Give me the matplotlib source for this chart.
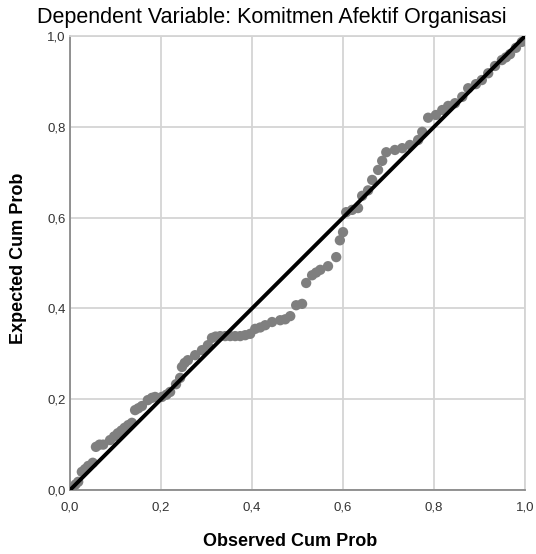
import matplotlib
matplotlib.use("Agg")
import matplotlib.pyplot as plt
from matplotlib.ticker import FuncFormatter

title = "Dependent Variable: Komitmen Afektif Organisasi"
xlabel = "Observed Cum Prob"
ylabel = "Expected Cum Prob"
ticks = [0.0, 0.2, 0.4, 0.6, 0.8, 1.0]

# observed / expected cumulative probabilities
observed = [0.004, 0.012, 0.018, 0.026, 0.033, 0.040, 0.050, 0.057, 0.065, 0.073,
            0.088, 0.097, 0.105, 0.113, 0.120, 0.128, 0.136, 0.143, 0.150, 0.158,
            0.171, 0.180, 0.187, 0.202, 0.212, 0.220, 0.233, 0.242, 0.246, 0.252,
            0.259, 0.275, 0.290, 0.303, 0.312, 0.320, 0.330, 0.341, 0.352, 0.363,
            0.374, 0.385, 0.396, 0.407, 0.418, 0.429, 0.444, 0.462, 0.473, 0.484,
            0.497, 0.510, 0.519, 0.532, 0.541, 0.550, 0.567, 0.585, 0.593, 0.600,
            0.607, 0.620, 0.633, 0.642, 0.655, 0.664, 0.677, 0.686, 0.695, 0.714,
            0.730, 0.747, 0.765, 0.774, 0.787, 0.804, 0.818, 0.831, 0.846, 0.862,
            0.875, 0.892, 0.905, 0.919, 0.934, 0.949, 0.958, 0.967, 0.980, 0.993]
expected = [0.004, 0.012, 0.018, 0.040, 0.046, 0.053, 0.060, 0.095, 0.100, 0.100,
            0.110, 0.118, 0.125, 0.131, 0.137, 0.143, 0.148, 0.176, 0.180, 0.185,
            0.198, 0.203, 0.205, 0.205, 0.210, 0.216, 0.233, 0.247, 0.271, 0.280,
            0.286, 0.297, 0.308, 0.319, 0.335, 0.338, 0.339, 0.339, 0.339, 0.339,
            0.339, 0.341, 0.344, 0.355, 0.358, 0.363, 0.370, 0.374, 0.376, 0.383,
            0.407, 0.410, 0.456, 0.473, 0.479, 0.485, 0.493, 0.513, 0.550, 0.568,
            0.612, 0.617, 0.621, 0.648, 0.660, 0.683, 0.705, 0.725, 0.744, 0.749,
            0.753, 0.760, 0.771, 0.789, 0.820, 0.826, 0.837, 0.846, 0.852, 0.866,
            0.885, 0.894, 0.903, 0.918, 0.934, 0.947, 0.953, 0.960, 0.974, 0.987]

plt.rcParams['font.family'] = ['Liberation Sans', 'DejaVu Sans']

fig = plt.figure(figsize=(5.36, 5.54), dpi=100)
ax = fig.add_axes([0.1306, 0.1155, 0.849, 0.8195])

ax.scatter(observed, expected, s=55, color="#7f7f7f", edgecolors="none", zorder=3)
ax.plot([0, 1], [0, 1], color="black", lw=2.8, zorder=4, solid_capstyle="round")

ax.set_xlim(0, 1)
ax.set_ylim(0, 1)
ax.set_xticks(ticks)
ax.set_yticks(ticks)
fmt = FuncFormatter(lambda v, p: ("%.1f" % v).replace(".", ","))
ax.xaxis.set_major_formatter(fmt)
ax.yaxis.set_major_formatter(fmt)
ax.tick_params(length=0, labelsize=9.5, colors="#333333")
ax.tick_params(axis="x", pad=8)
ax.tick_params(axis="y", pad=3)
ax.grid(True, color="#d4d4d4", lw=1.3, zorder=0)
ax.set_axisbelow(True)
for side in ["top", "right"]:
    ax.spines[side].set_color("#d4d4d4")
    ax.spines[side].set_linewidth(1.3)
for side in ["left", "bottom"]:
    ax.spines[side].set_color("#8a8a8a")
    ax.spines[side].set_linewidth(1.3)

fig.text(0.541, 0.023, xlabel, ha="center", va="center", fontsize=13, fontweight="bold")
fig.text(0.034, 0.534, ylabel, ha="center", va="center", rotation=90,
         fontsize=13, fontweight="bold")
fig.text(0.507, 0.968, title, ha="center", va="center", fontsize=15.5)

fig.savefig("out.png", dpi=100)
